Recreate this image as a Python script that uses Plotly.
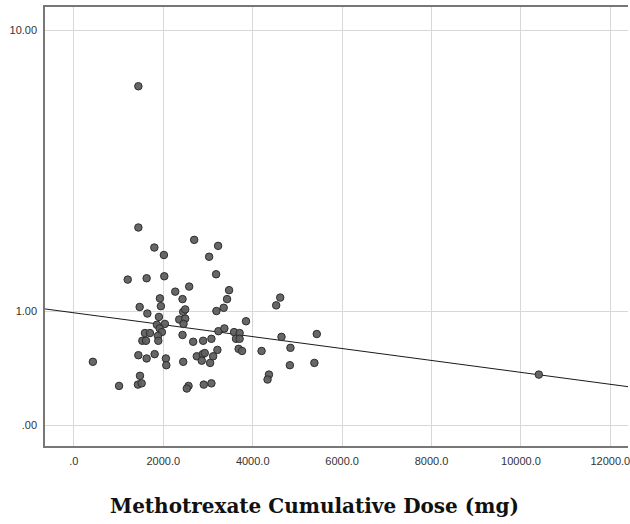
import numpy as np
import plotly.graph_objects as go

# Methotrexate cumulative dose (mg) and outcome values
dose_mg = [1442, 1442, 1799, 2013, 2691, 3226, 3025, 1204, 1627, 2022,
           3181, 2579, 2267, 3471, 1924, 2430, 3426, 4615, 4525, 1946,
           1471, 2445, 2490, 3188, 3351, 1643, 1902, 2356, 2490, 2452,
           3850, 1857, 2035, 1917, 1968, 3232, 3366, 1589, 1701, 1879,
           2430, 3583, 3707, 3627, 3707, 4644, 5433, 1531, 1612, 1888,
           2668, 2891, 3076, 3210, 3685, 3761, 4198, 4844, 424, 1442,
           1627, 1806, 2058, 2067, 2445, 2749, 2882, 2927, 2860, 3114,
           3047, 4831, 5379, 1478, 1433, 1516, 1010, 4363, 4332, 2564,
           2526, 2905, 3076, 10400]
outcome = [6.82, 2.32, 1.94, 1.81, 2.08, 1.97, 1.78, 1.42, 1.44, 1.47,
           1.50, 1.32, 1.25, 1.27, 1.16, 1.15, 1.15, 1.17, 1.07, 1.06,
           1.05, 0.99, 1.02, 1.00, 1.04, 0.97, 0.93, 0.90, 0.91, 0.85,
           0.88, 0.84, 0.85, 0.80, 0.76, 0.77, 0.80, 0.75, 0.75, 0.72,
           0.73, 0.76, 0.75, 0.69, 0.69, 0.71, 0.74, 0.67, 0.67, 0.67,
           0.66, 0.67, 0.69, 0.58, 0.59, 0.57, 0.57, 0.60, 0.47, 0.53,
           0.50, 0.54, 0.50, 0.44, 0.47, 0.52, 0.54, 0.55, 0.48, 0.52,
           0.46, 0.44, 0.46, 0.35, 0.28, 0.29, 0.27, 0.36, 0.32, 0.27,
           0.25, 0.28, 0.29, 0.36]

# Fit line end points (original units)
fit_x = [-650, 12400]
fit_y = [1.026, 0.264]

x_ticks = [0, 2000, 4000, 6000, 8000, 10000, 12000]
x_ticktext = [".0", "2000.0", "4000.0", "6000.0", "8000.0", "10000.0", "12000.0"]
y_ticks = [0, 1, 10]
y_ticktext = [".00", "1.00", "10.00"]


def safe_log(v):
    # SPSS "safe log" scale: log10(v + 1)
    return np.log10(np.asarray(v, dtype=float) + 1.0)


fig = go.Figure()
fig.add_trace(go.Scatter(
    x=fit_x, y=safe_log(fit_y), mode="lines",
    line=dict(color="#1a1a1a", width=1), hoverinfo="skip", showlegend=False))
fig.add_trace(go.Scatter(
    x=dose_mg, y=safe_log(outcome), mode="markers",
    marker=dict(size=7.5, color="rgba(95,95,95,0.95)",
                line=dict(color="#2e2e2e", width=1)),
    showlegend=False))

axis_font = dict(family="Liberation Sans, Arial, sans-serif", size=11, color="#333333")

fig.update_layout(
    width=630, height=524,
    margin=dict(l=45, r=0, t=7, b=78),
    paper_bgcolor="white", plot_bgcolor="white",
    xaxis=dict(range=[-646.5, 12395], tickvals=x_ticks, ticktext=x_ticktext,
               showgrid=True, gridcolor="#d8d8d8", gridwidth=1, zeroline=False,
               showline=True, linecolor="#777777", linewidth=1.5, mirror=True,
               ticks="outside", ticklen=4, tickcolor="rgba(0,0,0,0)",
               ticklabeloverflow="allow",
               tickfont=axis_font),
    yaxis=dict(range=[-0.0545, 1.102], tickvals=list(safe_log(y_ticks)),
               ticktext=y_ticktext,
               showgrid=True, gridcolor="#d8d8d8", gridwidth=1, zeroline=False,
               showline=True, linecolor="#777777", linewidth=1.5,
               ticks="outside", ticklen=4, tickcolor="rgba(0,0,0,0)",
               tickfont=axis_font),
    annotations=[dict(
        text="<b>Methotrexate Cumulative Dose (mg)</b>",
        xref="paper", yref="paper", x=0.4615, y=-0.1367,
        xanchor="center", yanchor="middle", showarrow=False,
        font=dict(family="DejaVu Serif, Liberation Serif, serif", size=20, color="#111111"))],
)

fig.write_html(
    "out.html",
    config={"displayModeBar": False},
    post_script="document.body.style.margin='0px';document.body.style.overflow='hidden';",
)
